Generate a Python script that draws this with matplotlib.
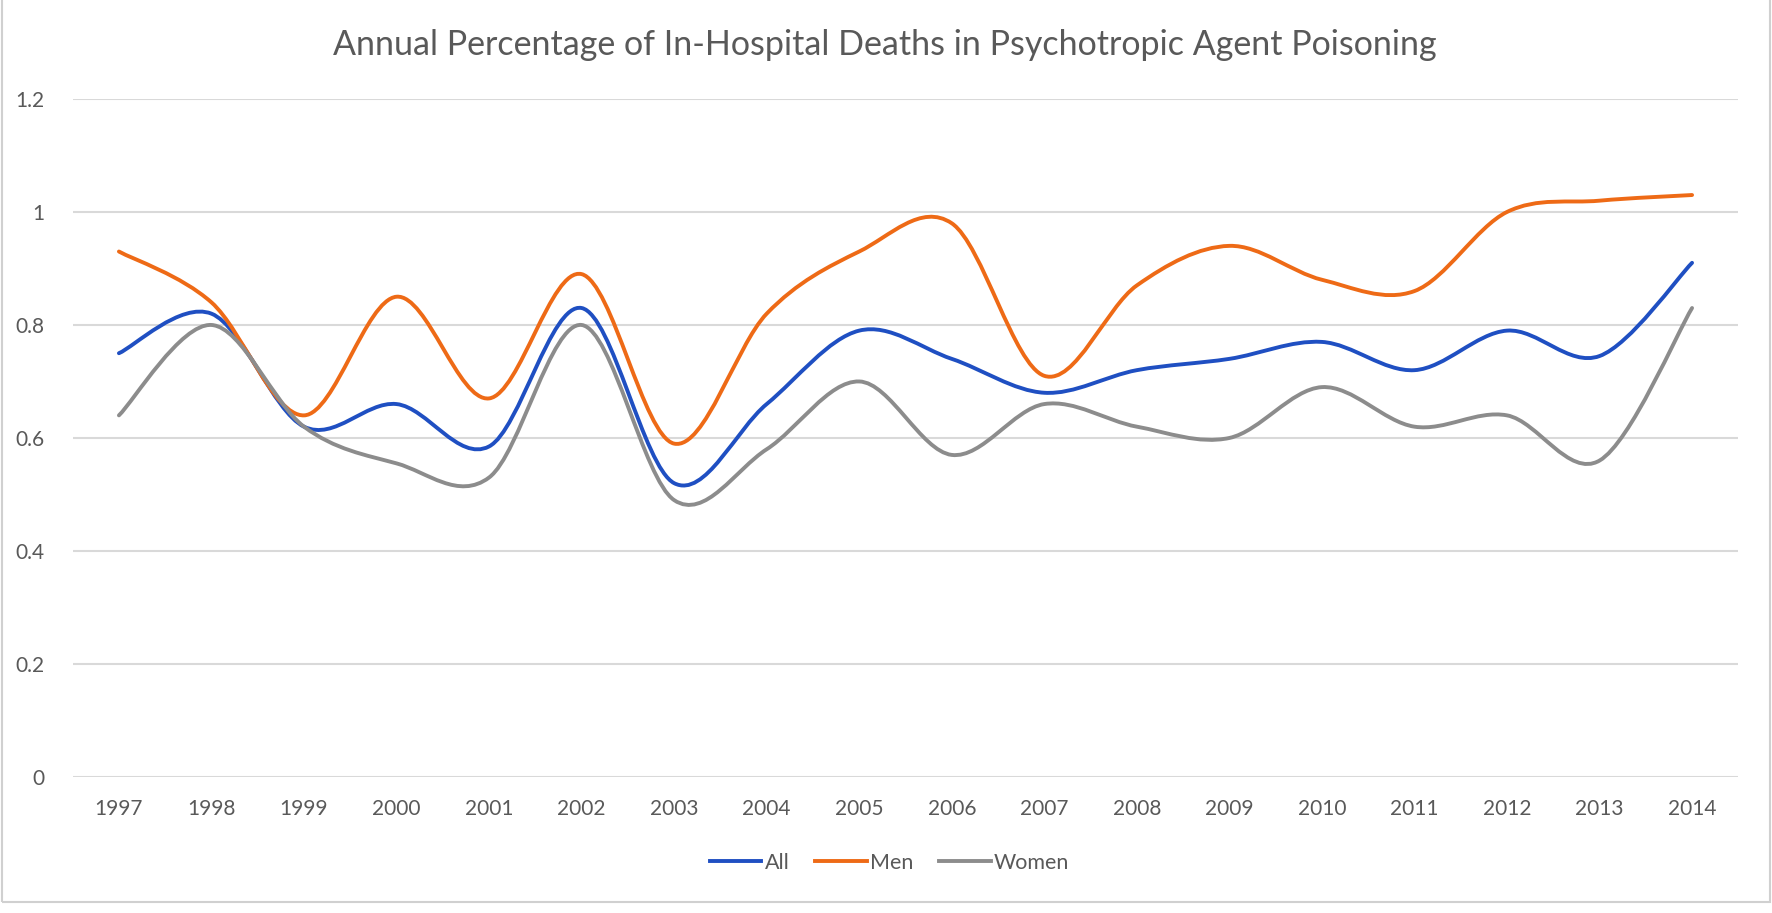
import matplotlib.pyplot as plt
import numpy as np
from matplotlib.path import Path
from matplotlib.patches import PathPatch, Rectangle
from matplotlib.lines import Line2D

# Years and series values
years = [str(y) for y in range(1997, 2015)]
all_vals = [0.75, 0.82, 0.62, 0.66, 0.585, 0.83, 0.52, 0.66, 0.79, 0.74,
            0.68, 0.72, 0.74, 0.77, 0.72, 0.79, 0.745, 0.91]
men_vals = [0.93, 0.84, 0.64, 0.85, 0.67, 0.89, 0.59, 0.82, 0.93, 0.98,
            0.71, 0.87, 0.94, 0.88, 0.86, 1.00, 1.02, 1.03]
women_vals = [0.64, 0.80, 0.62, 0.555, 0.53, 0.80, 0.49, 0.58, 0.70, 0.57,
              0.66, 0.62, 0.60, 0.69, 0.62, 0.64, 0.56, 0.83]

series_names = ['All', 'Men', 'Women']
series_colors = ['#1f4fc2', '#ee6a16', '#8c8c8c']
text_color = '#595959'

plt.rcParams['font.family'] = ['Lato', 'DejaVu Sans']


def smooth_path(xs, ys):
    # Excel style smoothed line: cubic Bezier segments with Catmull-Rom control points
    pts = np.column_stack([xs, ys]).astype(float)
    n = len(pts)
    verts = [pts[0]]
    codes = [Path.MOVETO]
    for i in range(n - 1):
        p0 = pts[i - 1] if i > 0 else pts[i]
        p1 = pts[i]
        p2 = pts[i + 1]
        p3 = pts[i + 2] if i + 2 < n else pts[i + 1]
        c1 = p1 + (p2 - p0) / 6.0
        c2 = p2 - (p3 - p1) / 6.0
        verts += [c1, c2, p2]
        codes += [Path.CURVE4] * 3
    return Path(verts, codes)


fig = plt.figure(figsize=(17.72, 9.13), dpi=100)
ax = fig.add_axes([0.041, 0.149, 0.94, 0.7426])

x = np.arange(len(years))
for vals, name, col in zip([all_vals, men_vals, women_vals], series_names, series_colors):
    patch = PathPatch(smooth_path(x, vals), facecolor='none', edgecolor=col,
                      lw=2.8, capstyle='round', joinstyle='round', zorder=3)
    ax.add_patch(patch)

ax.set_xlim(-0.5, len(years) - 0.5)
ax.set_ylim(0, 1.2)
ax.set_yticks([0, 0.2, 0.4, 0.6, 0.8, 1.0, 1.2])
ax.set_yticklabels(['0', '0.2', '0.4', '0.6', '0.8', '1', '1.2'])
ax.set_xticks(x)
ax.set_xticklabels(years)
ax.tick_params(axis='both', length=0, labelsize=15, colors=text_color)
ax.tick_params(axis='y', pad=20)
ax.tick_params(axis='x', pad=16)
ax.grid(axis='y', color='#d9d9d9', lw=1.5)
ax.set_axisbelow(True)
for s in ax.spines.values():
    s.set_visible(False)

fig.text(0.4995, 0.951, 'Annual Percentage of In-Hospital Deaths in Psychotropic Agent Poisoning',
         ha='center', va='center', fontsize=24.5, color=text_color)

handles = [Line2D([0], [0], color=c, lw=2.8) for c in series_colors]
fig.legend(handles, series_names, loc='center', bbox_to_anchor=(0.502, 0.055),
           ncol=3, frameon=False, fontsize=15.5, labelcolor=text_color,
           handlelength=2.4, handletextpad=0.15, columnspacing=1.2)

# light border around the chart area
fig.patches.append(Rectangle((0.0012, 0.012), 0.9976, 0.99, transform=fig.transFigure,
                             facecolor='none', edgecolor='#d0d0d0', lw=1.5))

fig.savefig('out.png', dpi=100)
